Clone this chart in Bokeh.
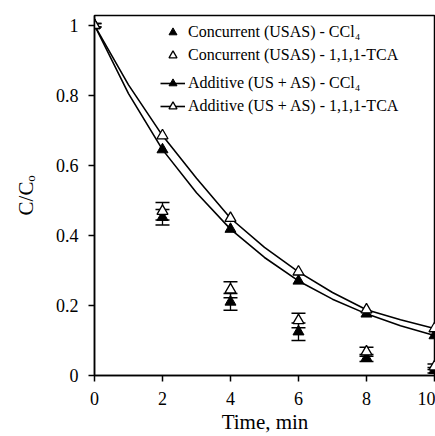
from bokeh.plotting import figure
from bokeh.models import (Range1d, FixedTicker, PrintfTickFormatter, Whisker, TeeHead,
                          ColumnDataSource, Legend, LegendItem)
from bokeh.embed import file_html
from bokeh.resources import INLINE

# ---- data ----
t_line = [0, 1, 2, 3, 4, 5, 6, 7, 8, 9, 10]
add_ccl4_line = [1.0, 0.805, 0.645, 0.522, 0.418, 0.337, 0.27, 0.218, 0.176, 0.142, 0.114]
add_tca_line = [1.0, 0.83, 0.685, 0.563, 0.449, 0.366, 0.296, 0.237, 0.188, 0.159, 0.134]

t_pts = [0, 2, 4, 6, 8, 10]
add_ccl4 = [1.0, 0.645, 0.418, 0.27, 0.176, 0.114]
add_tca = [1.0, 0.685, 0.449, 0.296, 0.188, 0.134]

conc_ccl4 = [1.0, 0.452, 0.21, 0.125, 0.05, 0.015]
conc_ccl4_err = [0.005, 0.022, 0.024, 0.025, 0.01, 0.008]
conc_tca = [1.0, 0.469, 0.245, 0.157, 0.068, 0.025]
conc_tca_err = [0.005, 0.025, 0.023, 0.021, 0.013, 0.008]

x_ticks = [0, 2, 4, 6, 8, 10]
y_ticks = [0, 0.2, 0.4, 0.6, 0.8, 1]

labels = ["Concurrent (USAS) - CCl\u2084", "Concurrent (USAS) - 1,1,1-TCA",
          "Additive (US + AS) - CCl\u2084", "Additive (US + AS) - 1,1,1-TCA"]
x_title = "Time, min"
y_title = "C/C\u2092"

FONT = "Liberation Serif"

p = figure(width=435, height=436, output_backend="svg", toolbar_location=None,
           x_range=Range1d(0, 10.03), y_range=Range1d(0, 1.028),
           min_border_left=94, min_border_right=0, min_border_top=15, min_border_bottom=59,
           background_fill_color="white", border_fill_color="white")
p.grid.visible = False
p.outline_line_color = "black"
p.outline_line_width = 1.5

for ax in (p.xaxis[0], p.yaxis[0]):
    ax.axis_line_width = 1.5
    ax.major_tick_line_width = 1.5
    ax.major_tick_in = 0
    ax.major_tick_out = 6
    ax.minor_tick_line_color = None
    ax.major_label_text_font = FONT
    ax.major_label_text_font_size = "18px"
    ax.major_label_text_color = "black"
    ax.axis_line_color = "black"
    ax.major_tick_line_color = "black"
    ax.formatter = PrintfTickFormatter(format="%g")
    ax.axis_label_text_font = FONT
    ax.axis_label_text_font_size = "21px"
    ax.axis_label_text_font_style = "normal"
    ax.axis_label_text_color = "black"
p.xaxis[0].ticker = FixedTicker(ticks=x_ticks)
p.yaxis[0].ticker = FixedTicker(ticks=y_ticks)
p.xaxis[0].major_label_standoff = 10
p.yaxis[0].major_label_standoff = 10
p.xaxis[0].axis_label = x_title
p.xaxis[0].axis_label_standoff = 2
p.yaxis[0].axis_label = y_title
p.yaxis[0].axis_label_standoff = 15

# error bars (concurrent)
src_c = ColumnDataSource(dict(
    t=t_pts, ccl4=conc_ccl4, tca=conc_tca,
    ccl4_lo=[v - e for v, e in zip(conc_ccl4, conc_ccl4_err)],
    ccl4_hi=[v + e for v, e in zip(conc_ccl4, conc_ccl4_err)],
    tca_lo=[v - e for v, e in zip(conc_tca, conc_tca_err)],
    tca_hi=[v + e for v, e in zip(conc_tca, conc_tca_err)],
))
for lo, hi in (("ccl4_lo", "ccl4_hi"), ("tca_lo", "tca_hi")):
    w = Whisker(source=src_c, base="t", lower=lo, upper=hi, line_color="black", line_width=1.3,
                upper_head=TeeHead(size=14, line_color="black", line_width=1.5),
                lower_head=TeeHead(size=14, line_color="black", line_width=1.5))
    p.add_layout(w)

# additive lines
l1 = p.line(t_line, add_ccl4_line, line_color="black", line_width=1.6)
l2 = p.line(t_line, add_tca_line, line_color="black", line_width=1.6)
m1 = p.scatter(t_pts, add_ccl4, marker="triangle", size=11, fill_color="black", line_color="black")
m2 = p.scatter(t_pts, add_tca, marker="triangle", size=11, fill_color="white", line_color="black", line_width=1.3)

# concurrent markers
c1 = p.scatter("t", "ccl4", source=src_c, marker="triangle", size=11, fill_color="black", line_color="black")
c2 = p.scatter("t", "tca", source=src_c, marker="triangle", size=11, fill_color="white", line_color="black", line_width=1.3)

common = dict(border_line_color=None, background_fill_alpha=0, padding=0, margin=0, spacing=0,
              glyph_width=25, glyph_height=20, label_height=23, label_standoff=3,
              label_text_font=FONT, label_text_font_size="16px", label_text_color="black")
leg1 = Legend(items=[LegendItem(label=labels[0], renderers=[c1]),
                     LegendItem(label=labels[1], renderers=[c2])],
              location=(66, 309), **common)
leg2 = Legend(items=[LegendItem(label=labels[2], renderers=[l1, m1]),
                     LegendItem(label=labels[3], renderers=[l2, m2])],
              location=(66, 258), **common)
p.add_layout(leg1, "center")
p.add_layout(leg2, "center")

open("out.html", "w").write(file_html(p, INLINE))
